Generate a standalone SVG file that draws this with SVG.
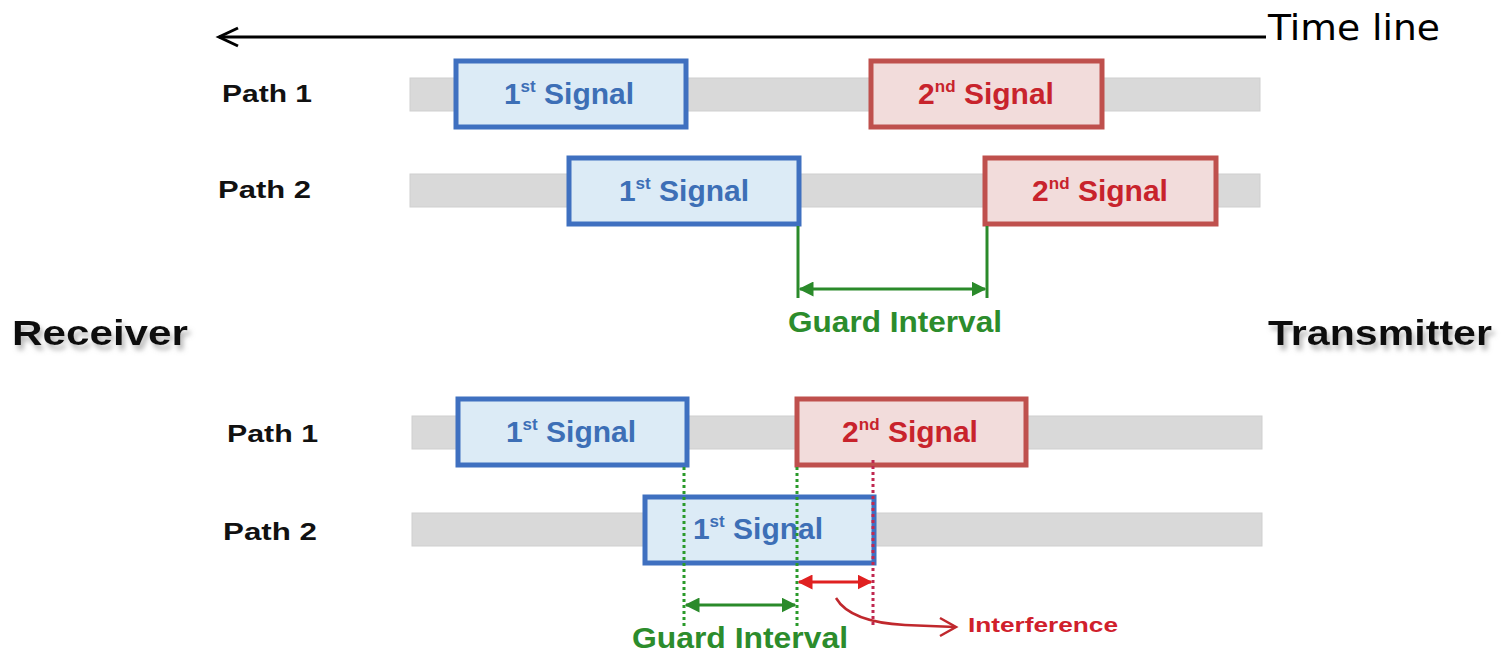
<svg xmlns="http://www.w3.org/2000/svg" width="1505" height="655" viewBox="0 0 1505 655">
<style>
.bar{fill:#d9d9d9;stroke:#cfcfcf;stroke-width:1}
.s1{fill:#dcebf6;stroke:#3f70c0;stroke-width:5}
.s2{fill:#f2dcdb;stroke:#bf504d;stroke-width:5}
.t1{font-family:"Liberation Sans",Arial,sans-serif;font-weight:bold;font-size:30px;fill:#3d6fb6;text-anchor:middle}
.t2{font-family:"Liberation Sans",Arial,sans-serif;font-weight:bold;font-size:30px;fill:#c8232c;text-anchor:middle}
.sup{font-size:17px}
.path{font-family:"Liberation Sans",Arial,sans-serif;font-weight:bold;font-size:24px;fill:#111}
.big{font-family:"Liberation Sans",Arial,sans-serif;font-weight:bold;font-size:35px;fill:#111}
.gi{font-family:"Liberation Sans",Arial,sans-serif;font-weight:bold;font-size:29px;fill:#2c8c2c}
.g{stroke:#2a8a2a;stroke-width:3;fill:none}
.gd{stroke:#2a9a2a;stroke-width:3;fill:none;stroke-dasharray:3 3}
.rd{stroke:#c02850;stroke-width:3;fill:none;stroke-dasharray:3 3}
.r{stroke:#e02020;stroke-width:3;fill:none}
</style>
<defs>
<marker id="ga" viewBox="0 0 10 10" refX="9" refY="5" markerWidth="5" markerHeight="5" orient="auto-start-reverse"><path d="M0,0 L10,5 L0,10 z" fill="#2a8a2a"/></marker>
<marker id="ra" viewBox="0 0 10 10" refX="9" refY="5" markerWidth="5" markerHeight="5" orient="auto-start-reverse"><path d="M0,0 L10,5 L0,10 z" fill="#e02020"/></marker>
<filter id="sh" x="-10%" y="-30%" width="120%" height="180%"><feDropShadow dx="3" dy="5" stdDeviation="2.5" flood-color="#888" flood-opacity="0.6"/></filter>
</defs>

<g id="timeline">
<line x1="219" y1="37" x2="1266" y2="37" stroke="#000" stroke-width="3"/>
<path d="M238,28 L219,37 L238,46" fill="none" stroke="#000" stroke-width="3"/>
<text x="1268" y="40" font-family="DejaVu Sans,Verdana,sans-serif" font-size="35" textLength="172" lengthAdjust="spacingAndGlyphs" fill="#000">Time line</text>
</g>

<g id="receiver"><text class="big" x="12" y="345" textLength="176" lengthAdjust="spacingAndGlyphs" filter="url(#sh)">Receiver</text></g>
<g id="transmitter"><text class="big" x="1268" y="345" textLength="224" lengthAdjust="spacingAndGlyphs" filter="url(#sh)">Transmitter</text></g>

<g id="top-path1">
<text class="path" x="222" y="102" textLength="90" lengthAdjust="spacingAndGlyphs">Path 1</text>
<rect class="bar" x="410" y="78" width="850" height="33"/>
</g>
<g id="top-p1-sig1"><rect class="s1" x="456" y="61" width="230" height="66"/><text class="t1" x="569" y="104">1<tspan class="sup" dy="-12">st</tspan><tspan dy="12"> Signal</tspan></text></g>
<g id="top-p1-sig2"><rect class="s2" x="871" y="61" width="231" height="66"/><text class="t2" x="986" y="104">2<tspan class="sup" dy="-12">nd</tspan><tspan dy="12"> Signal</tspan></text></g>

<g id="top-path2">
<text class="path" x="218" y="198" textLength="93" lengthAdjust="spacingAndGlyphs">Path 2</text>
<rect class="bar" x="410" y="174" width="850" height="33"/>
</g>
<g id="top-p2-sig1"><rect class="s1" x="569" y="158" width="230" height="66"/><text class="t1" x="684" y="201">1<tspan class="sup" dy="-12">st</tspan><tspan dy="12"> Signal</tspan></text></g>
<g id="top-p2-sig2"><rect class="s2" x="985" y="158" width="231" height="66"/><text class="t2" x="1100" y="201">2<tspan class="sup" dy="-12">nd</tspan><tspan dy="12"> Signal</tspan></text></g>

<g id="bot-path1">
<text class="path" x="227" y="442" textLength="91" lengthAdjust="spacingAndGlyphs">Path 1</text>
<rect class="bar" x="412" y="416" width="850" height="33"/>
</g>
<g id="bot-p1-sig1"><rect class="s1" x="458" y="399" width="229" height="66"/><text class="t1" x="571" y="442">1<tspan class="sup" dy="-12">st</tspan><tspan dy="12"> Signal</tspan></text></g>
<g id="bot-p1-sig2"><rect class="s2" x="797" y="399" width="229" height="66"/><text class="t2" x="910" y="442">2<tspan class="sup" dy="-12">nd</tspan><tspan dy="12"> Signal</tspan></text></g>

<g id="bot-path2">
<text class="path" x="223" y="540" textLength="94" lengthAdjust="spacingAndGlyphs">Path 2</text>
<rect class="bar" x="412" y="513" width="850" height="33"/>
</g>
<g id="bot-p2-sig1"><rect class="s1" x="645" y="497" width="229" height="66"/><text class="t1" x="758" y="539">1<tspan class="sup" dy="-12">st</tspan><tspan dy="12"> Signal</tspan></text></g>

<g id="connectors">
<line class="g" x1="798" y1="226" x2="798" y2="298"/>
<line class="g" x1="987" y1="226" x2="987" y2="298"/>
<line class="g" x1="800" y1="289" x2="985" y2="289" marker-start="url(#ga)" marker-end="url(#ga)"/>
<line class="gd" x1="684" y1="467" x2="684" y2="626"/>
<line class="gd" x1="797" y1="467" x2="797" y2="626"/>
<line class="rd" x1="873" y1="460" x2="873" y2="626"/>
<line class="g" x1="686" y1="605" x2="795" y2="605" marker-start="url(#ga)" marker-end="url(#ga)"/>
<line class="r" x1="799" y1="582" x2="871" y2="582" marker-start="url(#ra)" marker-end="url(#ra)"/>
<path d="M836,598 Q850,622 905,625 L955,627" fill="none" stroke="#c0282d" stroke-width="2.5"/>
<path d="M940,618 L956,627 L940,636" fill="none" stroke="#c0282d" stroke-width="2.5"/>
</g>

<g id="labels">
<text class="gi" x="788" y="332" textLength="214" lengthAdjust="spacingAndGlyphs">Guard Interval</text>
<text class="gi" x="632" y="648" textLength="216" lengthAdjust="spacingAndGlyphs">Guard Interval</text>
<text x="968" y="632" font-family="Liberation Sans,Arial,sans-serif" font-weight="bold" font-size="21" fill="#d0202c" textLength="150" lengthAdjust="spacingAndGlyphs">Interference</text>
</g>
</svg>
